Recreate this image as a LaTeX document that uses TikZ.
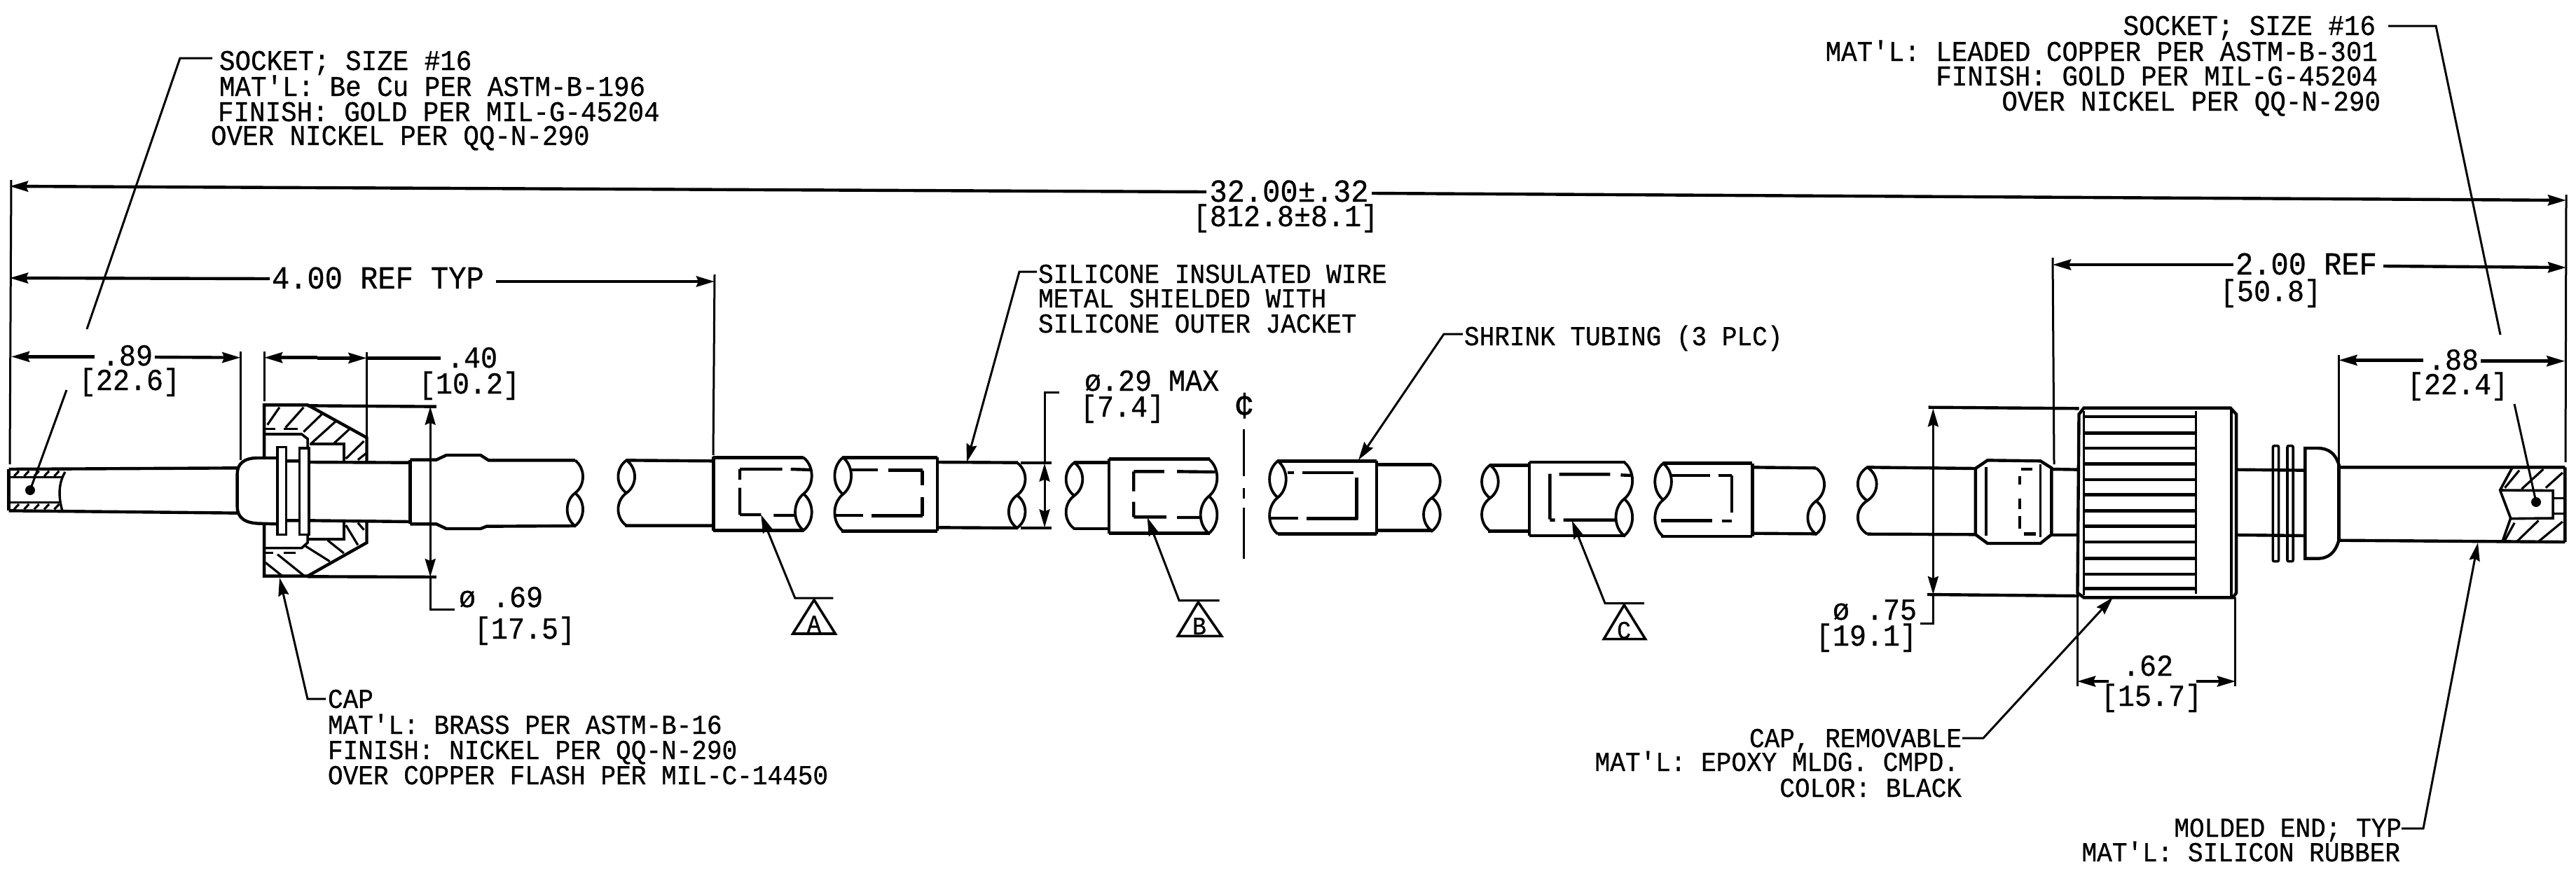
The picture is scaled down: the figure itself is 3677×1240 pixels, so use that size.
\documentclass[tikz,border=0pt]{standalone}
\usepackage{fontspec}
\usetikzlibrary{arrows.meta}
\newfontfamily\plotfont[FakeStretch=0.92,FakeBold=0.7]{Liberation Mono}
\newcommand\pf[1]{\plotfont\fontsize{#1}{#1}\selectfont}
\tikzset{
 obj/.style={line width=4.4pt,line join=miter},
 thin line/.style={line width=3pt},
 dim/.style={line width=4.4pt},
 hat/.style={line width=3.2pt},
 tip/.style={-{Stealth[length=26pt,width=15pt,inset=3pt]}},
 tips/.style={{Stealth[length=26pt,width=15pt,inset=3pt]}-{Stealth[length=26pt,width=15pt,inset=3pt]}},
 lab/.style={inner sep=0pt,outer sep=0pt,font=\pf{40.8}},
 labs/.style={inner sep=0pt,outer sep=0pt,font=\pf{39.2}},
 num/.style={inner sep=0pt,outer sep=0pt,font=\pf{43.5}},
 numw/.style={inner sep=0pt,outer sep=0pt,font=\pf{45.7}},
 let/.style={inner sep=0pt,outer sep=0pt,font=\pf{36}},
 zA/.style={shift={(0,450)},x=.5740pt,y=-.33333pt},
 zB/.style={shift={(2600,450)},x=.6869pt,y=-.33333pt},
 zC/.style={shift={(850,480)},x=.6059pt,y=-.33333pt},
 zD/.style={shift={(1750,480)},x=.6059pt,y=-.33333pt},
}
\newcommand\brkR[3]{%
 \pgfmathsetmacro\ym{(#2+#3)/2}\pgfmathsetmacro\yq{(#3-#2)*.12}%
 \draw[obj,line width=3.8pt] (#1,#2) .. controls (#1+26,#2+\yq) and (#1+26,\ym-\yq) .. (#1,\ym)
   .. controls (#1-26,\ym+\yq) and (#1-26,#3-\yq) .. (#1,#3)
   .. controls (#1+26,#3-\yq) and (#1+26,\ym+\yq) .. (#1,\ym);}
\newcommand\brkL[3]{%
 \pgfmathsetmacro\ym{(#2+#3)/2}\pgfmathsetmacro\yq{(#3-#2)*.12}%
 \draw[obj,line width=3.8pt] (#1,#3) .. controls (#1-26,#3-\yq) and (#1-26,\ym+\yq) .. (#1,\ym)
   .. controls (#1-26,\ym-\yq) and (#1-26,#2+\yq) .. (#1,#2)
   .. controls (#1+26,#2+\yq) and (#1+26,\ym-\yq) .. (#1,\ym);}
\begin{document}
\begin{tikzpicture}[x=1pt,y=-1pt]
\useasboundingbox (0,0) rectangle (3677,1240);
\fill[white] (0,0) rectangle (3677,1240);

%% ---------- texts, top left
\node[lab,anchor=base west] (sa) at (313,100) {SOCKET; SIZE \#16};
\node[lab,anchor=base west] (sb) at (313,137) {MAT'L: Be Cu PER ASTM-B-196};
\node[lab,anchor=base west] (sc) at (311,173) {FINISH: GOLD PER MIL-G-45204};
\node[lab,anchor=base west] (sd) at (301,207) {OVER NICKEL PER QQ-N-290};
%% top right
\node[lab,anchor=base east] (ra) at (3391,50) {SOCKET; SIZE \#16};
\node[lab,anchor=base east] (rb) at (3394,87) {MAT'L: LEADED COPPER PER ASTM-B-301};
\node[lab,anchor=base east] (rc) at (3394,122) {FINISH: GOLD PER MIL-G-45204};
\node[lab,anchor=base east] (rd) at (3398,158) {OVER NICKEL PER QQ-N-290};
%% centre
\node[labs,anchor=base west] (wa) at (1482,404) {SILICONE INSULATED WIRE};
\node[labs,anchor=base west] (wb) at (1482,439) {METAL SHIELDED WITH};
\node[labs,anchor=base west] (wc) at (1482,475) {SILICONE OUTER JACKET};
\node[labs,anchor=base west] (st) at (2090,493) {SHRINK TUBING (3 PLC)};
%% bottom left
\node[labs,anchor=base west] (ca) at (468,1011) {CAP};
\node[labs,anchor=base west] (cb) at (468,1048) {MAT'L: BRASS PER ASTM-B-16};
\node[labs,anchor=base west] (cc) at (468,1084) {FINISH: NICKEL PER QQ-N-290};
\node[labs,anchor=base west] (cd) at (468,1120) {OVER COPPER FLASH PER MIL-C-14450};
%% bottom right
\node[labs,anchor=base east] (ea) at (2800,1067) {CAP, REMOVABLE};
\node[labs,anchor=base east] (eb) at (2796,1101) {MAT'L: EPOXY MLDG. CMPD.};
\node[labs,anchor=base east] (ec) at (2800,1138) {COLOR: BLACK};
\node[labs,anchor=base east] (ma) at (3428,1195) {MOLDED END; TYP};
\node[labs,anchor=base east] (mb) at (3426,1230) {MAT'L: SILICON RUBBER};
%% dimensions
\node[numw,anchor=base] (d32) at (1840,288) {32.00±.32};
\node[num,anchor=base] (d32b) at (1835,323) {[812.8±8.1]};
\node[numw,anchor=base west] (d4) at (388,412) {4.00 REF TYP};
\node[num,anchor=base] (d89) at (182,522) {.89};
\node[num,anchor=base] (d89b) at (185,557) {[22.6]};
\node[num,anchor=base] (d40) at (674,525) {.40};
\node[num,anchor=base] (d40b) at (670,562) {[10.2]};
\node[num,anchor=base west] (d69) at (655,867) {ø .69};
\node[num,anchor=base] (d69b) at (749,912) {[17.5]};
\node[num,anchor=base west] (d29) at (1548,558) {ø.29 MAX};
\node[num,anchor=base west] (d29b) at (1542,595) {[7.4]};
\node[inner sep=0pt,outer sep=0pt,font=\pf{52},anchor=base] (cl) at (1776,596) {¢};
\node[num,anchor=base] (d88) at (3502,528) {.88};
\node[num,anchor=base] (d88b) at (3508,563) {[22.4]};
\node[num,anchor=base east] (d75) at (2736,885) {ø .75};
\node[num,anchor=base east] (d75b) at (2736,922) {[19.1]};
\node[numw,anchor=base west] (d2) at (3191,392) {2.00 REF};
\node[num,anchor=base] (d2b) at (3241,430) {[50.8]};
\node[num,anchor=base] (d62) at (3066,965) {.62};
\node[num,anchor=base] (d62b) at (3071,1008) {[15.7]};

%% overall dimension lines and long extension lines
\draw[thin line] (16,257) -- (14,663);
\draw[thin line] (3663,278) -- (3662,660);
\draw[dim,tip] (1722,274) -- (14,266);
\draw[dim,tip] (1958,276) -- (3663,286);
\draw[dim,tip] (385,398) -- (14,397);
\draw[dim,tip] (708,402) -- (1020,402);
\draw[thin line] (1020,392) -- (1018,650);
\draw[thin line] (2930,368) -- (2932,663);
\draw[dim,tip] (3188,378) -- (2930,378);
\draw[dim,tip] (3402,380) -- (3663,382);

%% socket leaders
\coordinate (lsa) at (303,83); \coordinate (lsb) at (257,83);
\draw[thin line] (lsa) -- (lsb) -- (124,470);
\draw[thin line] (95,557) -- (43,700);
\coordinate (lra) at (3409,37); \coordinate (lrb) at (3477,37);
\draw[thin line] (lra) -- (lrb) -- (3569,478);
\draw[thin line] (3589,577) -- (3620,717);
\fill (43,700) ellipse [x radius=7,y radius=7];
\fill (3620,717) ellipse [x radius=7,y radius=7];
%% other leaders with arrowheads
\draw[thin line,tip] (ca.west |- 0,998) ++(-3,0) -- (439,998) -- (399,825);
\draw[thin line,tip] (1480,388) -- (1455,388) -- (1380,660);
\draw[thin line,tip] (2088,477) -- (2061,477) -- (1939,657);
\draw[thin line,tip] (2801,1054) -- (2831,1054) -- (3016,853);
\draw[thin line,tip] (3428,1183) -- (3459,1183) -- (3537,775);

%% ---------- left connector
\begin{scope}[zA]
 \draw[obj] (22,660) -- (590,655);
 \draw[obj] (22,838) -- (590,848);
 \draw[obj] (22,660) -- (22,838);
 \draw[obj,line width=3.4pt] (25,695) -- (155,695) (25,803) -- (150,803);
 \draw[obj,line width=3.4pt] (162,672) .. controls (145,720) and (145,780) .. (155,838);
 \foreach \a in {35,60,85,110,135} {
  \draw[hat] (\a,690) -- (\a+12,668);
  \draw[hat] (\a,832) -- (\a+12,810);
 }
 \draw[obj] (690,612) -- (640,612) .. controls (605,612) and (590,640) .. (590,680) -- (590,820) .. controls (590,870) and (610,893) .. (650,893) -- (690,895);
 \draw[obj,line width=3.6pt] (690,565) rectangle (712,940);
 \draw[obj,line width=3.6pt] (745,570) rectangle (768,940);
 \draw[obj] (712,625) -- (745,625) (768,630) -- (1020,632);
 \draw[obj] (712,880) -- (745,880) (768,880) -- (1020,885);
 \draw[obj] (657,610) -- (657,385) -- (765,385) -- (912,525) -- (912,632);
 \draw[obj] (657,895) -- (657,1118) -- (765,1118) -- (912,975) -- (912,885);
 \draw[obj] (765,388) -- (1085,392);
 \draw[obj] (765,1120) -- (1085,1122);
 \draw[obj,line width=3.6pt] (657,510) -- (750,510) -- (765,530) -- (765,570);
 \draw[obj,line width=3.6pt] (770,552) -- (855,552) -- (855,625);
 \draw[obj,line width=3.6pt] (657,998) -- (750,998) -- (765,975) -- (765,940);
 \draw[obj,line width=3.6pt] (768,960) -- (855,960) -- (855,885);
 \draw[hat] (660,487) -- (685,487) (705,487) -- (740,487);
 \draw[hat] (660,1018) -- (680,1018) (705,1018) -- (735,1018);
 \draw[hat] (665,470) -- (695,395) (710,482) -- (755,395) (755,500) -- (800,425)
  (775,548) -- (835,455) (830,550) -- (868,490) (860,615) -- (905,540) (890,620) -- (912,590);
 \draw[hat] (660,1060) -- (700,1115) (690,1025) -- (755,1115) (760,990) -- (820,1055)
  (815,965) -- (855,1020) (860,900) -- (890,985) (890,890) -- (905,920);
 %% wire with shrink band
 \draw[obj] (1020,620) -- (1020,895);
 \draw[obj] (1020,620) -- (1085,620) -- (1110,600) -- (1195,600) -- (1215,622) -- (1430,622);
 \draw[obj] (1020,895) -- (1085,895) -- (1110,915) -- (1195,915) -- (1210,905) -- (1430,903);
 \brkR{1430}{622}{903}
 %% dimension lines
 \draw[dim,tip] (235,178) -- (28,178);
 \draw[dim,tip] (385,180) -- (598,182);
 \draw[thin line] (598,155) -- (598,620);
 \draw[thin line] (657,155) -- (657,370);
 \draw[thin line] (912,160) -- (912,520);
 \draw[dim,tip] (790,182) -- (657,182);
 \draw[dim,tip] (790,184) -- (912,184);
 \draw[dim] (912,184) -- (1095,184);
 \draw[thin line,tips] (1070,392) -- (1070,1122);
 \draw[thin line] (1070,1122) -- (1070,1260) -- (1130,1260);
\end{scope}

%% ---------- middle wires and shrink tubes
\begin{scope}[zC]
 \brkL{73}{532}{812}
 \draw[obj] (73,532) -- (278,535) (70,812) -- (278,812);
 \draw[obj] (278,515) -- (278,835);
 \draw[obj] (278,520) -- (490,520) (278,832) -- (490,832);
 \brkR{490}{520}{832}
 \draw[obj] (340,570) -- (440,570) (460,570) -- (510,573) (340,570) -- (340,615) (340,650) -- (340,765)
   (340,765) -- (390,765) (420,768) -- (470,768);
 \draw[thin line,tip] (560,1122) -- (470,1122) -- (390,765);
 \draw[obj,line width=3.6pt] (515,1130) -- (465,1275) -- (565,1275) -- cycle;
 \brkL{583}{520}{835}
 \draw[obj] (583,520) -- (805,520) (580,835) -- (805,835) (805,520) -- (805,835);
 \draw[obj] (600,573) -- (665,573) (690,575) -- (770,575) (770,575) -- (770,640) (770,690) -- (770,770)
   (565,768) -- (630,768) (650,770) -- (770,770);
 \draw[obj] (805,540) -- (995,542) (805,820) -- (995,822);
 \brkR{993}{542}{822}
 \draw[obj,line width=3.6pt] (1002,543) -- (1075,543) (1002,822) -- (1075,822);
 \draw[thin line,tips] (1058,545) -- (1058,820);
 \draw[thin line] (1092,240) -- (1058,240) -- (1058,545);
 \draw[thin line] (1527,400) -- (1527,600) (1527,650) -- (1527,695) (1527,735) -- (1527,955);
 \brkL{1128}{542}{825}
 \draw[obj] (1128,542) -- (1210,542) (1125,825) -- (1210,825);
 \draw[obj] (1210,525) -- (1210,845) (1210,527) -- (1447,527) (1210,845) -- (1447,845);
 \brkR{1445}{527}{845}
 \draw[obj] (1268,580) -- (1340,580) (1370,580) -- (1460,582) (1268,580) -- (1268,665) (1268,710) -- (1268,775)
   (1268,775) -- (1345,775) (1370,777) -- (1425,777);
 \draw[thin line,tip] (1470,1133) -- (1375,1133) -- (1300,777);
 \draw[obj,line width=3.6pt] (1420,1140) -- (1372,1285) -- (1475,1285) -- cycle;
\end{scope}
\node[let,anchor=base] (ta) at (1162,903) {A};
\node[let,anchor=base] (tb) at (1712,906) {B};
\node[let,anchor=base] (tc) at (2318,912) {C};
\begin{scope}[zD]
 \brkL{122}{535}{848}
 \draw[obj] (122,535) -- (355,535) (122,848) -- (355,848) (355,535) -- (355,848);
 \draw[obj] (145,585) -- (160,585) (180,585) -- (300,585) (308,605) -- (308,785)
   (105,780) -- (170,780) (190,782) -- (310,782);
 \draw[obj] (355,550) -- (485,550) (355,832) -- (485,832);
 \brkR{485}{550}{835}
 \brkL{622}{553}{835}
 \draw[obj] (622,553) -- (715,553) (618,835) -- (715,835);
 \draw[obj] (715,540) -- (715,855) (715,540) -- (940,540) (715,855) -- (940,855);
 \brkR{938}{540}{855}
 \draw[obj] (763,590) -- (763,785) (785,592) -- (905,592) (930,595) -- (955,597)
   (763,788) -- (775,788) (795,788) -- (918,788);
 \draw[thin line,tip] (985,1145) -- (893,1145) -- (815,790);
 \draw[obj,line width=3.6pt] (938,1152) -- (890,1298) -- (988,1298) -- cycle;
 \brkL{1030}{545}{858}
 \draw[obj] (1030,545) -- (1240,545) (1025,858) -- (1240,858) (1240,545) -- (1240,858);
 \draw[obj] (1045,597) -- (1140,597) (1160,597) -- (1192,597) (1192,597) -- (1192,755)
   (1025,790) -- (1145,790) (1168,792) -- (1192,792);
 \draw[obj] (1240,562) -- (1390,565) (1240,845) -- (1390,847);
 \brkR{1390}{565}{848}
\end{scope}

%% ---------- right connector
\begin{scope}[zB]
 \brkL{95}{652}{938}
 \draw[obj] (95,652) -- (320,657) (95,938) -- (320,940);
 \draw[obj] (320,657) -- (345,622) -- (455,625) -- (478,655) -- (478,940) -- (455,978) -- (345,978) -- (320,940) -- cycle;
 \draw[obj,line width=3.6pt] (342,650) -- (342,945) (455,640) -- (455,950);
 \draw[obj] (412,690) -- (412,725) (412,785) -- (412,830) (412,860) -- (412,915)
   (415,660) -- (438,660) (420,938) -- (445,938);
 \draw[obj] (478,660) -- (535,662) (478,942) -- (535,942);
 \draw[obj] (535,425) -- (545,398) -- (850,398) -- (862,425) -- (862,1190) -- (855,1210) -- (545,1210) -- (532,1190) -- cycle;
 \draw[obj,line width=3.6pt] (545,410) -- (545,1200) (852,405) -- (852,1205);
 \draw[thin line] (778,410) -- (778,1195);
 \foreach \yy in {435,505,570,637,705,770,838,905,972,1042,1110,1172}
  \draw[obj] (545,\yy) -- (778,\yy);
 \draw[obj] (222,395) -- (535,400);
 \draw[obj] (220,1197) -- (535,1203);
 \draw[thin line,tips] (232,400) -- (232,1197);
 \draw[thin line] (232,1197) -- (232,1320) -- (205,1320);
 \draw[thin line] (532,1210) -- (532,1590);
 \draw[thin line] (860,1210) -- (860,1590);
 \draw[obj] (862,662) -- (1005,665) (862,942) -- (1005,945);
 \draw[obj,line width=3.6pt,rounded corners=2pt] (938,560) rectangle (950,1055);
 \draw[obj,line width=3.6pt,rounded corners=2pt] (968,560) rectangle (980,1055);
 \draw[obj] (1075,640) .. controls (1068,595) and (1055,570) .. (1030,570) -- (1005,570) -- (1005,1043) -- (1030,1043) .. controls (1055,1043) and (1068,1015) .. (1075,965);
 \draw[obj] (1075,640) -- (1075,965);
 \draw[obj] (1075,652) -- (1545,652) (1075,965) -- (1545,972) (1545,652) -- (1545,972);
 \draw[thin line] (1075,170) -- (1075,640);
 \draw[dim,tip] (1250,193) -- (1075,193);
 \draw[dim,tip] (1370,197) -- (1545,197);
 \draw[obj,line width=3.6pt] (1435,655) -- (1410,750) -- (1432,870) -- (1415,970);
 \draw[obj,line width=3.6pt] (1410,750) -- (1520,752) -- (1520,870) -- (1432,872);
 \draw[obj,line width=3.6pt] (1520,785) -- (1545,785) (1520,850) -- (1545,850);
 \draw[hat] (1420,740) -- (1450,665) (1455,745) -- (1500,660) (1505,740) -- (1540,675)
   (1420,965) -- (1440,890) (1445,970) -- (1490,880) (1490,970) -- (1540,885);
\end{scope}
%% .62 dimension
\draw[dim,tip] (3010,973) -- (2965,973);
\draw[dim,tip] (3135,973) -- (3191,973);
\end{tikzpicture}
\end{document}
